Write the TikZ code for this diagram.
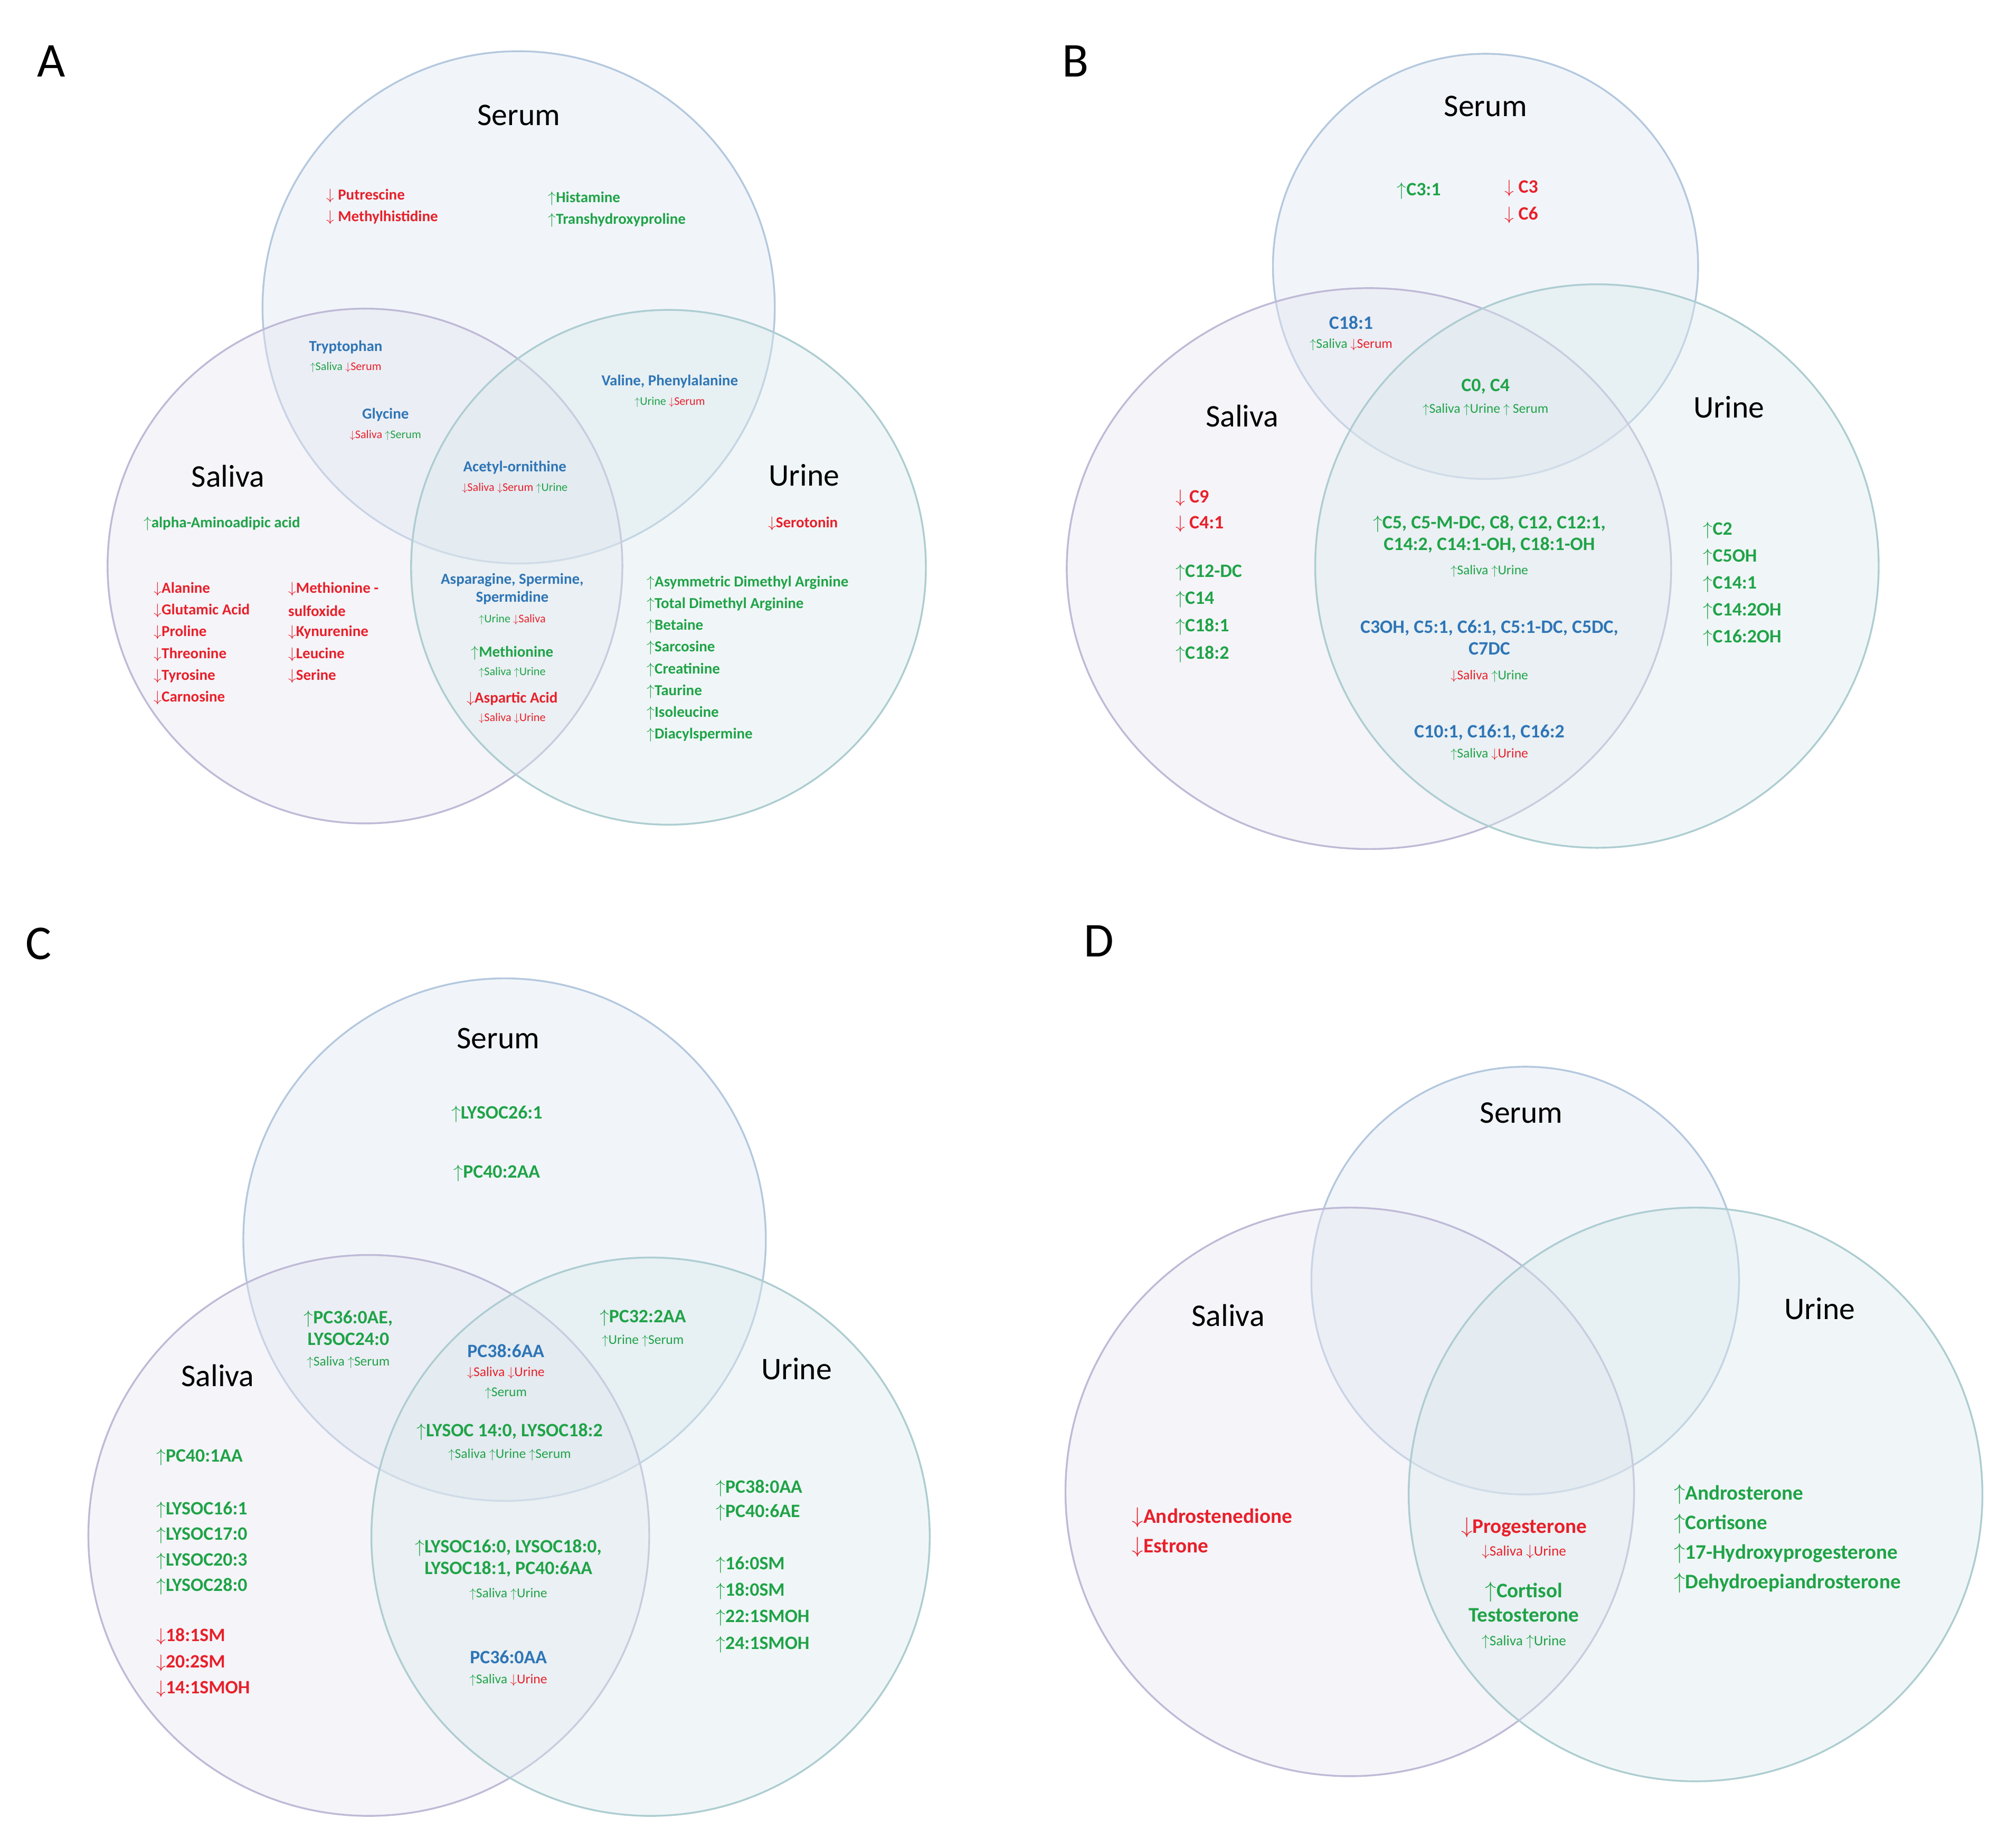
\documentclass[tikz,border=0pt]{standalone}
\usepackage{fontspec}
\setmainfont{Carlito}
\usepackage{tikz}
\usetikzlibrary{positioning}
\definecolor{upcol}{HTML}{1FA347}
\definecolor{dncol}{HTML}{E8202A}
\definecolor{bothcol}{HTML}{2E75B6}
\definecolor{serfill}{HTML}{DCE6F2}
\definecolor{salfill}{HTML}{E6E4F0}
\definecolor{urifill}{HTML}{DAE9EB}
\definecolor{serline}{HTML}{B4C8DE}
\definecolor{salline}{HTML}{BEBAD6}
\definecolor{uriline}{HTML}{ADCDD1}
\newcommand{\U}[1]{\textcolor{upcol}{$\uparrow$#1}}
\newcommand{\D}[1]{\textcolor{dncol}{$\downarrow$#1}}
\tikzset{
  fluid/.style={line width=2pt,fill opacity=0.4,draw opacity=1},
  serum/.style={fluid,draw=serline,fill=serfill},
  saliva/.style={fluid,draw=salline,fill=salfill},
  urine/.style={fluid,draw=uriline,fill=urifill},
  panel/.style={font=\fontsize{54}{60}\selectfont,inner sep=0pt},
  title/.style={font=\fontsize{35}{40}\selectfont,inner sep=0pt},
  itema/.style={font=\fontsize{17}{20}\selectfont\bfseries,inner sep=0pt},
  suba/.style={font=\fontsize{13}{15}\selectfont,inner sep=0pt},
  itemb/.style={font=\fontsize{21}{24}\selectfont\bfseries,inner sep=0pt},
  subb/.style={font=\fontsize{15}{18}\selectfont,inner sep=0pt},
  itemd/.style={font=\fontsize{23}{27}\selectfont\bfseries,inner sep=0pt},
  subd/.style={font=\fontsize{16}{19}\selectfont,inner sep=0pt}
}
\begin{document}
\begin{tikzpicture}[x=0.05cm,y=-0.05cm]
  \useasboundingbox (0,0) rectangle (1568,1443);

  % panel A
  \draw[serum] (405,240) circle (200);
  \draw[saliva] (285,442) circle (201);
  \draw[urine] (522,443) circle (201);
  \node[panel] (la) at (40,48) {A};
  \node[title] (aser) at (405,90) {Serum};
  \node[title] (asal) at (178,372) {Saliva};
  \node[title] (auri) at (628,371) {Urine};
  \node[itema,anchor=west] (aput) at (255,153) {\D{ Putrescine}};
  \node[itema,anchor=west] (amet) at (255,170) {\D{ Methylhistidine}};
  \node[itema,anchor=west] (ahis) at (428,155) {\U{Histamine}};
  \node[itema,anchor=west] (atra) at (428,172) {\U{Transhydroxyproline}};
  \node[itema,text=bothcol] (atry) at (270,271) {Tryptophan};
  \node[suba] (atrys) at (270,287) {\U{Saliva} \D{Serum}};
  \node[itema,text=bothcol] (agly) at (301,324) {Glycine};
  \node[suba] (aglys) at (301,340) {\D{Saliva} \U{Serum}};
  \node[itema,text=bothcol] (aval) at (523,298) {Valine, Phenylalanine};
  \node[suba] (avals) at (523,314) {\U{Urine} \D{Serum}};
  \node[itema,text=bothcol] (aace) at (402,365) {Acetyl-ornithine};
  \node[suba] (aaces) at (402,381) {\D{Saliva} \D{Serum} \U{Urine}};
  \node[itema,anchor=west] (aalp) at (112,409) {\U{alpha-Aminoadipic acid}};
  \node[itema] (aser2) at (627,409) {\D{Serotonin}};
  \foreach \t [count=\i] in {Alanine,Glutamic Acid,Proline,Threonine,Tyrosine,Carnosine}
    \node[itema,anchor=west] (asl\i) at (120,460+17*\i-17) {\D{\t}};
  \node[itema,anchor=west] (asm1) at (225,460) {\D{Methionine -}};
  \node[itema,anchor=west,text=dncol] (asm2) at (225,477) {sulfoxide};
  \foreach \t [count=\i from 3] in {Kynurenine,Leucine,Serine}
    \node[itema,anchor=west] (asm\i) at (225,460+17*\i-17) {\D{\t}};
  \node[itema,text=bothcol,align=center] (aasp) at (400,460) {Asparagine, Spermine,\\Spermidine};
  \node[suba] (aasps) at (400,484) {\U{Urine} \D{Saliva}};
  \node[itema] (amth) at (400,510) {\U{Methionine}};
  \node[suba] (amths) at (400,525) {\U{Saliva} \U{Urine}};
  \node[itema] (aasa) at (400,546) {\D{Aspartic Acid}};
  \node[suba] (aasas) at (400,561) {\D{Saliva} \D{Urine}};
  \foreach \t [count=\i] in {Asymmetric Dimethyl Arginine,Total Dimethyl Arginine,Betaine,Sarcosine,Creatinine,Taurine,Isoleucine,Diacylspermine}
    \node[itema,anchor=west] (aur\i) at (505,455+17*\i-17) {\U{\t}};

  % panel B
  \draw[serum] (1160,208) circle (166);
  \draw[saliva] (1069,444) ellipse (236 and 219);
  \draw[urine] (1247,442) ellipse (220 and 220);
  \node[panel] (lb) at (840,48) {B};
  \node[title] (bser) at (1160,83) {Serum};
  \node[title] (bsal) at (970,325) {Saliva};
  \node[title] (buri) at (1350,318) {Urine};
  \node[itemb] (bc31) at (1108,149) {\U{C3:1}};
  \node[itemb,anchor=west] (bc3) at (1175,147) {\D{ C3}};
  \node[itemb,anchor=west] (bc6) at (1175,168) {\D{ C6}};
  \node[itemb,text=bothcol] (bc18) at (1055,252) {C18:1};
  \node[subb] (bc18s) at (1055,269) {\U{Saliva} \D{Serum}};
  \node[itemb,text=upcol] (bc0) at (1160,302) {C0, C4};
  \node[subb] (bc0s) at (1160,320) {\U{Saliva} \U{Urine} \U{ Serum}};
  \node[itemb,anchor=west] (bc9) at (918,389) {\D{ C9}};
  \node[itemb,anchor=west] (bc41) at (918,409) {\D{ C4:1}};
  \foreach \t [count=\i] in {C12-DC,C14,C18:1,C18:2}
    \node[itemb,anchor=west] (bsl\i) at (918,447+21.3*\i-21.3) {\U{\t}};
  \node[itemb,text=upcol,align=center] (bc5) at (1163,417) {$\uparrow$C5, C5-M-DC, C8, C12, C12:1,\\C14:2, C14:1-OH, C18:1-OH};
  \node[subb] (bc5s) at (1163,446) {\U{Saliva} \U{Urine}};
  \node[itemb,text=bothcol,align=center] (bc3o) at (1163,498) {C3OH, C5:1, C6:1, C5:1-DC, C5DC,\\C7DC};
  \node[subb] (bc3os) at (1163,528) {\D{Saliva} \U{Urine}};
  \node[itemb,text=bothcol] (bc10) at (1163,572) {C10:1, C16:1, C16:2};
  \node[subb] (bc10s) at (1163,589) {\U{Saliva} \D{Urine}};
  \foreach \t [count=\i] in {C2,C5OH,C14:1,C14:2OH,C16:2OH}
    \node[itemb,anchor=west] (bur\i) at (1330,414+21*\i-21) {\U{\t}};

  % panel C
  \draw[serum] (394,968) circle (204);
  \draw[saliva] (288,1199) circle (219);
  \draw[urine] (508,1200) circle (218);
  \node[panel] (lc) at (30,737) {C};
  \node[title] (cser) at (389,811) {Serum};
  \node[title] (csal) at (170,1074) {Saliva};
  \node[title] (curi) at (622,1069) {Urine};
  \node[itemb] (cly26) at (388,870) {\U{LYSOC26:1}};
  \node[itemb] (cpc40) at (388,916) {\U{PC40:2AA}};
  \node[itemb,text=upcol,align=center] (cpc36) at (272,1037) {$\uparrow$PC36:0AE,\\LYSOC24:0};
  \node[subb] (cpc36s) at (272,1064) {\U{Saliva} \U{Serum}};
  \node[itemb] (cpc32) at (502,1029) {\U{PC32:2AA}};
  \node[subb] (cpc32s) at (502,1047) {\U{Urine} \U{Serum}};
  \node[itemb,text=bothcol] (cpc38) at (395,1055) {PC38:6AA};
  \node[subb] (cpc38s) at (395,1072) {\D{Saliva} \D{Urine}};
  \node[subb] (cpc38t) at (395,1088) {\U{Serum}};
  \node[itemb] (cly14) at (398,1118) {\U{LYSOC 14:0, LYSOC18:2}};
  \node[subb] (cly14s) at (398,1136) {\U{Saliva} \U{Urine} \U{Serum}};
  \node[itemb,anchor=west] (cpc401) at (122,1138) {\U{PC40:1AA}};
  \foreach \t [count=\i] in {LYSOC16:1,LYSOC17:0,LYSOC20:3,LYSOC28:0}
    \node[itemb,anchor=west] (csl\i) at (122,1179+20*\i-20) {\U{\t}};
  \foreach \t [count=\i] in {18:1SM,20:2SM,14:1SMOH}
    \node[itemb,anchor=west] (csd\i) at (122,1278+20.5*\i-20.5) {\D{\t}};
  \node[itemb,text=upcol,align=center] (cly16) at (397,1217) {$\uparrow$LYSOC16:0, LYSOC18:0,\\LYSOC18:1, PC40:6AA};
  \node[subb] (cly16s) at (397,1245) {\U{Saliva} \U{Urine}};
  \node[itemb,text=bothcol] (cpc360) at (397,1294) {PC36:0AA};
  \node[subb] (cpc360s) at (397,1312) {\U{Saliva} \D{Urine}};
  \node[itemb,anchor=west] (cur1) at (559,1162) {\U{PC38:0AA}};
  \node[itemb,anchor=west] (cur2) at (559,1181) {\U{PC40:6AE}};
  \foreach \t [count=\i from 3] in {16:0SM,18:0SM,22:1SMOH,24:1SMOH}
    \node[itemb,anchor=west] (cur\i) at (559,1222+20.7*\i-62.1) {\U{\t}};

  % panel D
  \draw[serum] (1191,1000) circle (167);
  \draw[saliva] (1054,1165) circle (222);
  \draw[urine] (1324,1167) circle (224);
  \node[panel] (ld) at (858,735) {D};
  \node[title] (dser) at (1188,869) {Serum};
  \node[title] (dsal) at (959,1027) {Saliva};
  \node[title] (duri) at (1421,1022) {Urine};
  \node[itemd,anchor=west] (dand) at (884,1185) {\D{Androstenedione}};
  \node[itemd,anchor=west] (dest) at (884,1208) {\D{Estrone}};
  \node[itemd] (dpro) at (1190,1193) {\D{Progesterone}};
  \node[subd] (dpros) at (1190,1212) {\D{Saliva} \D{Urine}};
  \node[itemd,text=upcol,align=center] (dcor) at (1190,1251) {$\uparrow$Cortisol\\Testosterone};
  \node[subd] (dcors) at (1190,1282) {\U{Saliva} \U{Urine}};
  \foreach \t [count=\i] in {Androsterone,Cortisone,17-Hydroxyprogesterone,Dehydroepiandrosterone}
    \node[itemd,anchor=west] (dur\i) at (1307,1167+23*\i-23) {\U{\t}};
\end{tikzpicture}
\end{document}
